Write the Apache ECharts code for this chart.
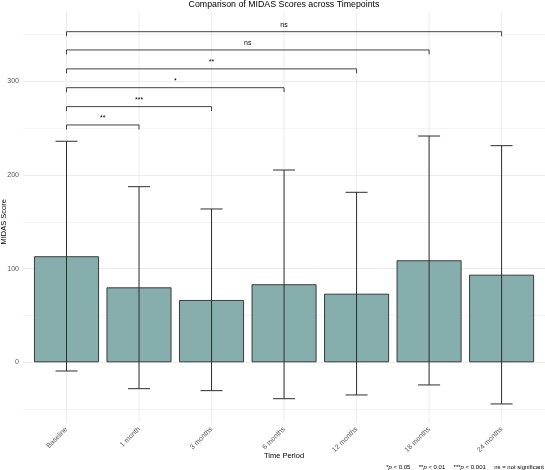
<!DOCTYPE html>
<html>
<head>
<meta charset="utf-8">
<script src="https://cdn.jsdelivr.net/npm/echarts@6/dist/echarts.min.js"></script>
<style>
html,body{margin:0;padding:0;background:#fff;}
#c{width:545px;height:470px;}
</style>
</head>
<body>
<div id="c"></div>
<script>
// ---- data ----
const categories = ['Baseline', '1 month', '3 months', '6 months', '12 months', '18 months', '24 months'];
const meanScores = [113.2, 80.0, 66.5, 83.3, 73.2, 108.9, 93.5];
const upperBounds = [236.0, 187.5, 163.7, 205.3, 181.5, 241.6, 231.3];
const lowerBounds = [-9.3, -28.2, -30.3, -38.9, -34.9, -24.2, -44.5];
const compareTargets = [1, 2, 3, 4, 5, 6];
const compareLabels = ['**', '***', '*', '**', 'ns', 'ns'];
const compareHeights = [253.4, 273.0, 293.2, 313.3, 333.5, 353.0];
const yTickValues = [0, 100, 200, 300];

// ---- layout / style ----
const FONT = "'Liberation Sans', Arial, Helvetica, sans-serif";
const Y_MIN = -50, Y_MAX = 350;
const PANEL_TOP = 374, PANEL_BOTTOM = -64;
const gridTop = 34.5, gridHeight = 374.6;

const chart = echarts.init(document.getElementById('c'));

const option = {
  animation: false,
  backgroundColor: '#ffffff',
  title: {
    text: 'Comparison of MIDAS Scores across Timepoints',
    left: 284, top: 0, textAlign: 'center', padding: 0,
    textStyle: { fontFamily: FONT, fontSize: 8.8, fontWeight: 'normal', color: '#000' }
  },
  grid: [
    { left: 23, right: 0, top: gridTop, height: gridHeight, containLabel: false, outerBoundsMode: 'none' },
    { left: 66.5, right: 43.4, top: gridTop, height: gridHeight, containLabel: false, outerBoundsMode: 'none' }
  ],
  xAxis: [
    { gridIndex: 0, type: 'value', min: 0, max: 1, show: false },
    {
      gridIndex: 1, type: 'category', data: categories, boundaryGap: false,
      axisLine: { show: false }, axisTick: { show: false }, splitLine: { show: false },
      axisLabel: { rotate: 45, margin: 19, fontSize: 7, color: '#555', fontFamily: FONT, interval: 0 },
      name: 'Time Period', nameLocation: 'middle', nameGap: 43, nameMoveOverlap: false,
      nameTextStyle: { fontFamily: FONT, fontSize: 7.5, color: '#000' }
    }
  ],
  yAxis: [
    {
      gridIndex: 0, type: 'value', min: Y_MIN, max: Y_MAX, interval: 50,
      axisLine: { show: false }, axisTick: { show: false },
      axisLabel: {
        margin: 4, fontSize: 7, color: '#555', fontFamily: FONT,
        formatter: v => (yTickValues.indexOf(v) >= 0 ? String(v) : '')
      },
      splitLine: { show: true, lineStyle: { color: ['#f3f3f3', '#e8e8e8'], width: 0.8 } },
      name: 'MIDAS Score', nameLocation: 'middle', nameGap: 15, nameMoveOverlap: false,
      nameTextStyle: { fontFamily: FONT, fontSize: 7.5, color: '#000' }
    },
    { gridIndex: 1, type: 'value', min: Y_MIN, max: Y_MAX, interval: 50, show: false }
  ],
  graphic: [
    {
      type: 'text', right: 1, bottom: 0,
      style: {
        text: '{n|*}{i|p}{n| < 0.05     **}{i|p}{n| < 0.01     ***}{i|p}{n| < 0.001     ns = not significant}',
        rich: {
          n: { fontFamily: FONT, fontSize: 6, fill: '#000' },
          i: { fontFamily: FONT, fontSize: 6, fontStyle: 'italic', fill: '#000' }
        }
      }
    }
  ],
  series: [
    {
      type: 'custom', name: 'vgrid', xAxisIndex: 1, yAxisIndex: 1, z: 1, silent: true,
      data: categories.map((c, i) => [i]),
      renderItem: (params, api) => {
        const i = api.value(0);
        const p1 = api.coord([i, PANEL_TOP]);
        const p2 = api.coord([i, PANEL_BOTTOM]);
        return { type: 'line', shape: { x1: p1[0], y1: p1[1], x2: p2[0], y2: p2[1] },
          style: { stroke: '#e8e8e8', lineWidth: 0.8 } };
      }
    },
    {
      type: 'bar', name: 'Mean', xAxisIndex: 1, yAxisIndex: 1, z: 2, clip: false,
      data: meanScores, barWidth: 65,
      itemStyle: { color: '#86aeac', borderColor: '#2b2b2b', borderWidth: 0.9 }
    },
    {
      type: 'custom', name: 'errorbars', xAxisIndex: 1, yAxisIndex: 1, z: 3,
      data: categories.map((c, i) => [i, lowerBounds[i], upperBounds[i]]),
      renderItem: (params, api) => {
        const i = api.value(0);
        const lo = api.coord([i, api.value(1)]);
        const hi = api.coord([i, api.value(2)]);
        const hw = 11;
        const st = { stroke: '#2e2e2e', lineWidth: 1 };
        return {
          type: 'group', children: [
            { type: 'line', shape: { x1: hi[0], y1: hi[1], x2: lo[0], y2: lo[1] }, style: st },
            { type: 'line', shape: { x1: hi[0] - hw, y1: hi[1], x2: hi[0] + hw, y2: hi[1] }, style: st },
            { type: 'line', shape: { x1: lo[0] - hw, y1: lo[1], x2: lo[0] + hw, y2: lo[1] }, style: st }
          ]
        };
      }
    },
    {
      type: 'custom', name: 'brackets', xAxisIndex: 1, yAxisIndex: 1, z: 3,
      data: compareTargets.map((t, k) => [0, t, compareHeights[k]]),
      renderItem: (params, api) => {
        const a = api.coord([api.value(0), api.value(2)]);
        const b = api.coord([api.value(1), api.value(2)]);
        const drop = 4.5;
        return {
          type: 'group', children: [
            { type: 'polyline', shape: { points: [[a[0], a[1] + drop], [a[0], a[1]], [b[0], b[1]], [b[0], b[1] + drop]] },
              style: { stroke: '#2e2e2e', lineWidth: 0.9, fill: null } },
            { type: 'text', x: (a[0] + b[0]) / 2, y: a[1] - 3,
              style: { text: compareLabels[params.dataIndex], fontFamily: FONT, fontSize: 7, fill: '#000',
                align: 'center', verticalAlign: 'bottom' } }
          ]
        };
      }
    }
  ]
};
chart.setOption(option);
</script>
</body>
</html>
